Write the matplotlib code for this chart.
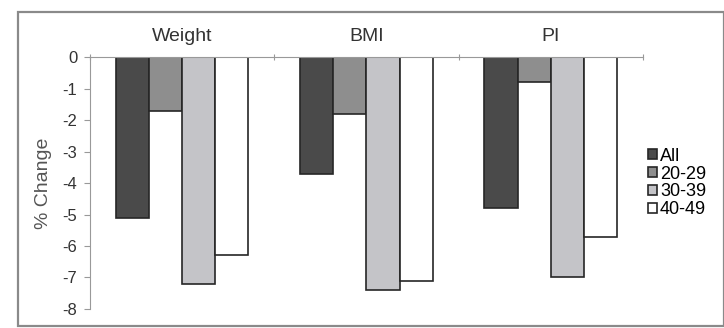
import numpy as np
import matplotlib.pyplot as plt
from matplotlib.patches import Rectangle

plt.rcParams['font.family'] = ['Liberation Sans', 'DejaVu Sans']

categories = ["Weight", "BMI", "PI"]
groups = ["All", "20-29", "30-39", "40-49"]
values = {
    "All":   [-5.1, -3.7, -4.8],
    "20-29": [-1.7, -1.8, -0.8],
    "30-39": [-7.2, -7.4, -7.0],
    "40-49": [-6.3, -7.1, -5.7],
}
colors = ["#4a4a4a", "#8e8e8e", "#c4c4c8", "#ffffff"]
yticks = [0, -1, -2, -3, -4, -5, -6, -7, -8]

fig = plt.figure(figsize=(7.24, 3.28), dpi=100)
fig.patches.append(Rectangle((0.025, 0.006), 0.975, 0.957, transform=fig.transFigure,
                             fill=False, edgecolor="#8a8a8a", linewidth=1.6))
ax = fig.add_axes([0.1243, 0.058, 0.7637, 0.768])

w = 0.18
x = np.arange(len(categories)) + 0.5
for i, g in enumerate(groups):
    ax.bar(x + (i - 1.5) * w, values[g], width=w, color=colors[i],
           edgecolor="#262626", linewidth=1.2, label=g, zorder=2)

ax.set_xlim(0, 3)
ax.set_ylim(-8, 0)
ax.set_yticks(yticks)
ax.set_yticklabels([str(t) for t in yticks], fontsize=12, color="#333333")
ax.tick_params(axis="y", direction="out", length=4, color="#999999", pad=5)

ax.xaxis.tick_top()
ax.set_xticks([0, 1, 2, 3])
ax.set_xticklabels([])
ax.tick_params(axis="x", direction="inout", length=5, color="#999999")
ax.set_xticks(x, minor=True)
ax.set_xticklabels(categories, minor=True, fontsize=14, color="#333333")
ax.tick_params(axis="x", which="minor", length=0, pad=9)

for s in ["bottom", "right"]:
    ax.spines[s].set_visible(False)
for s in ["left", "top"]:
    ax.spines[s].set_color("#999999")
ax.set_ylabel("% Change", fontsize=14, color="#555555", labelpad=8)

ax.legend(loc="center left", bbox_to_anchor=(1.0, 0.5), frameon=False, fontsize=13,
          handlelength=0.5, handleheight=0.5, handletextpad=0.15, labelspacing=0.05,
          borderpad=0, borderaxespad=0.3)

fig.savefig("out.png", dpi=100)
